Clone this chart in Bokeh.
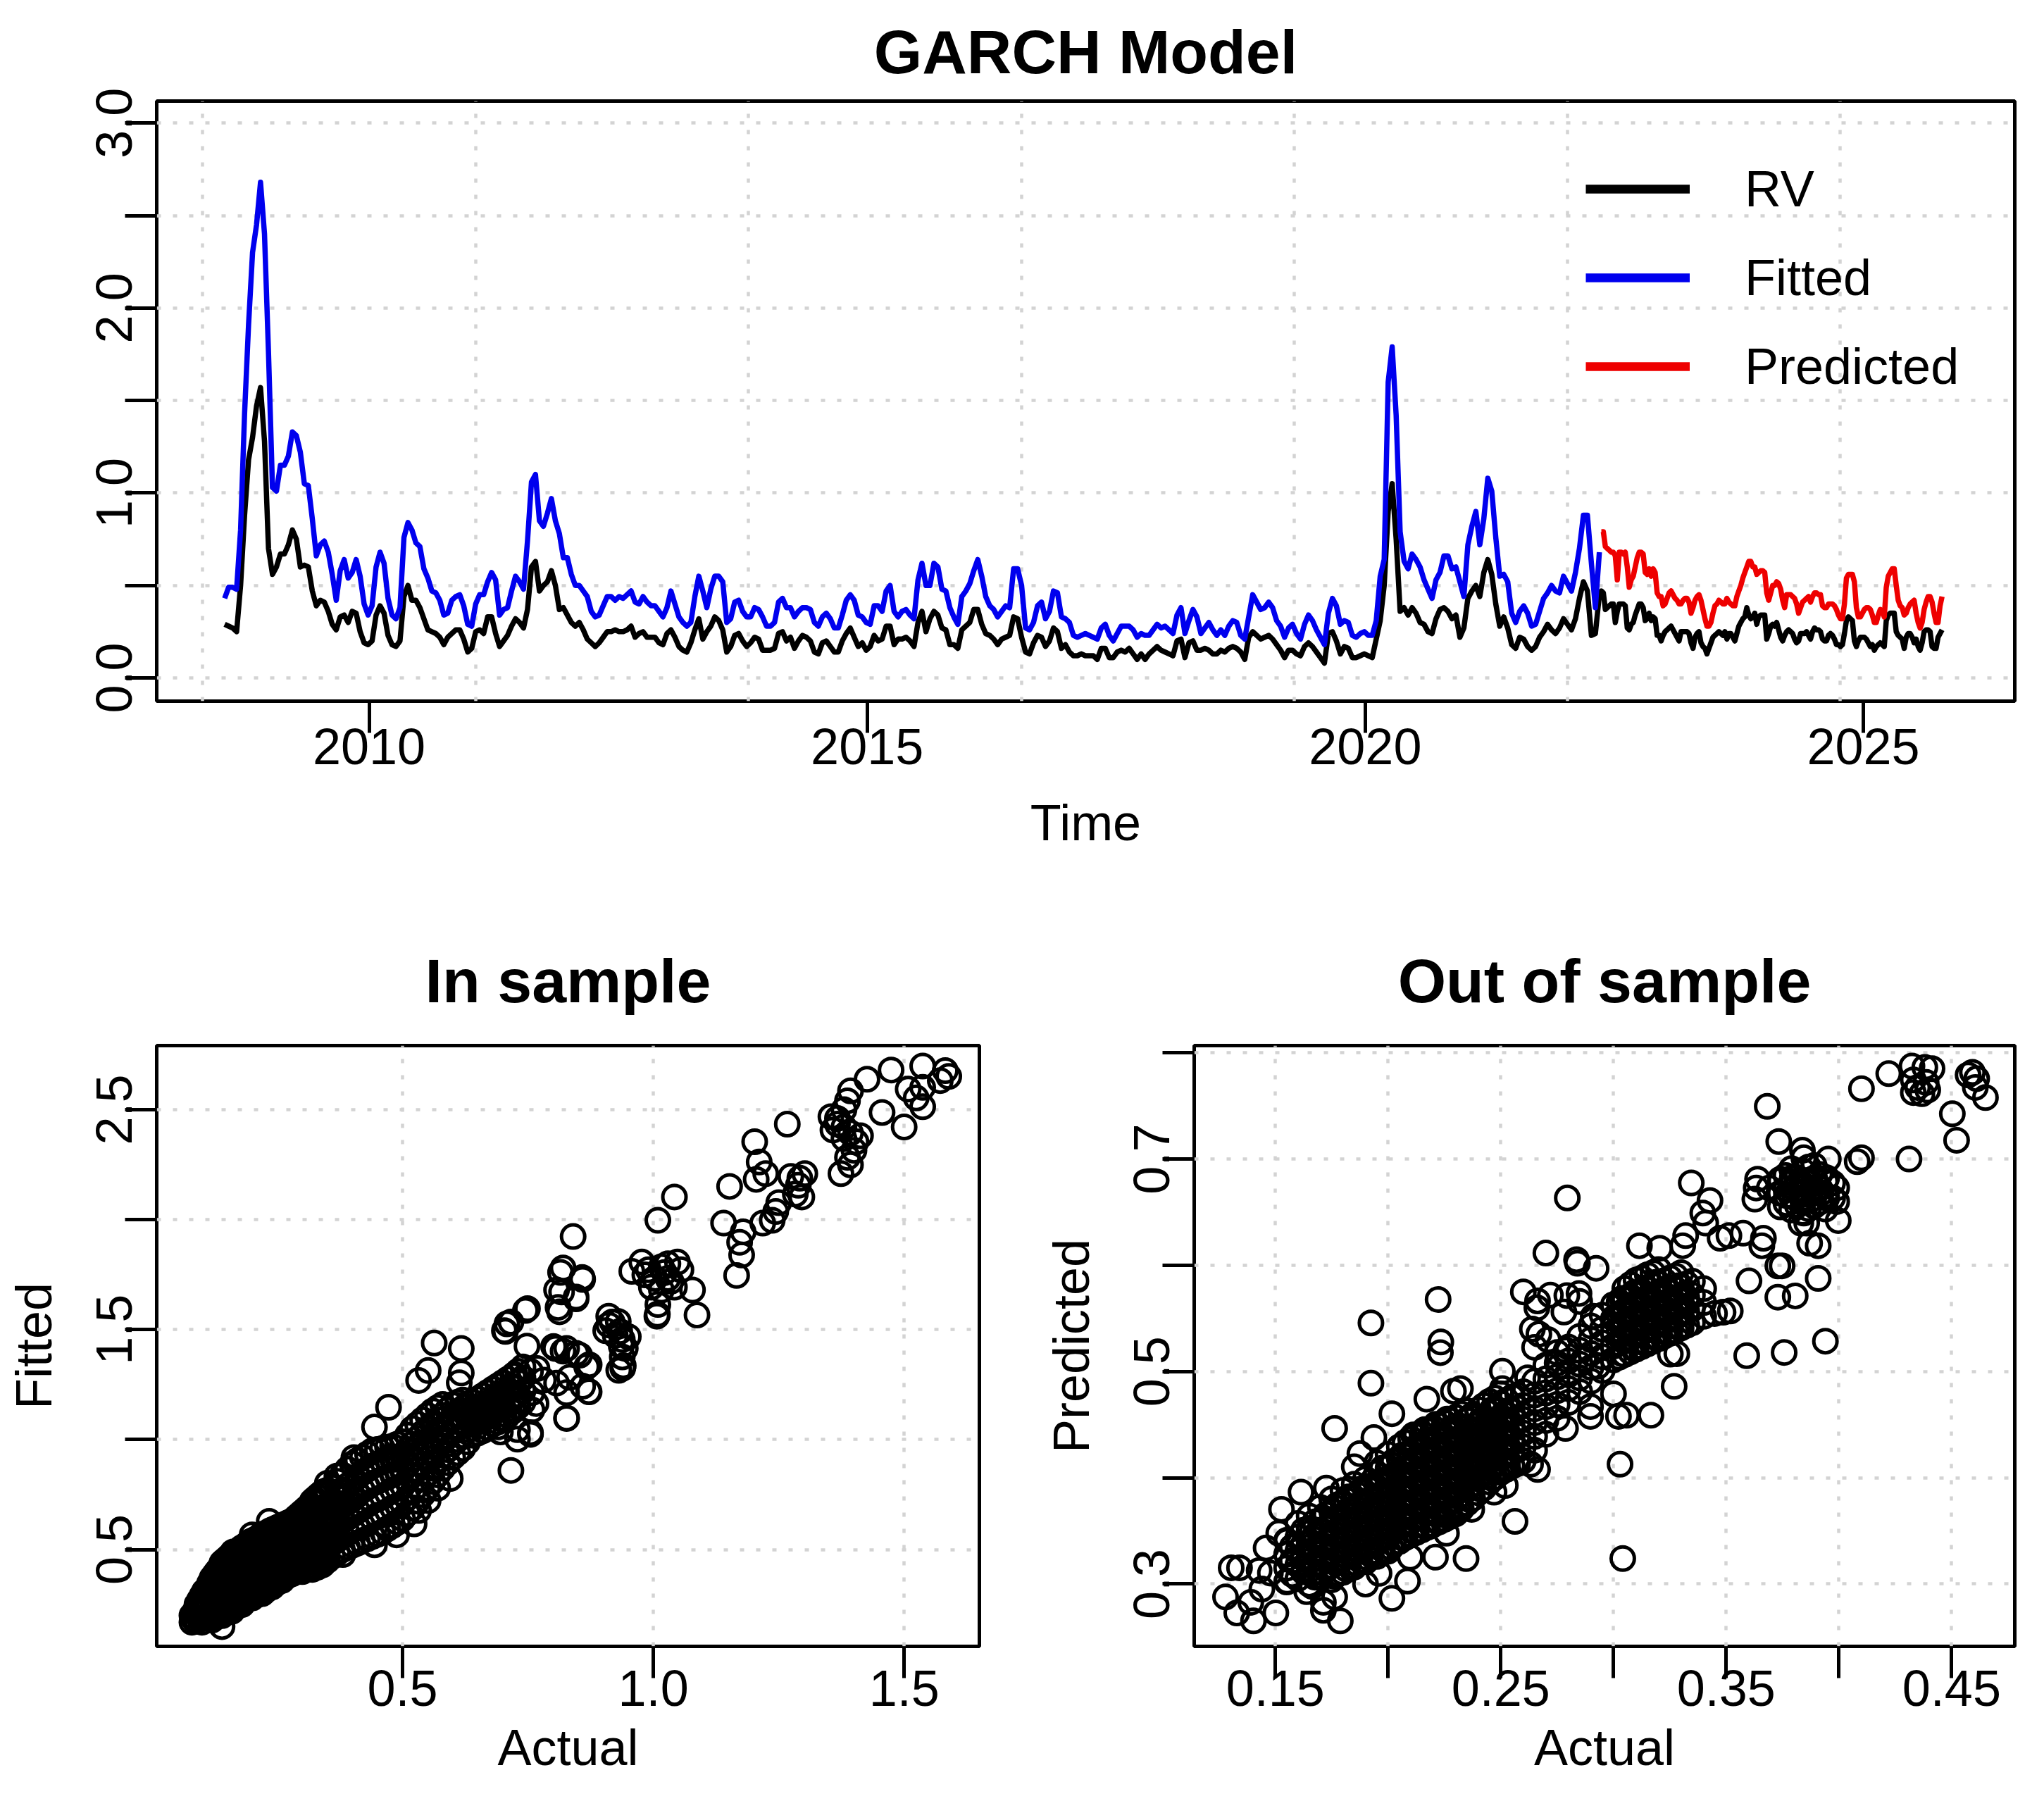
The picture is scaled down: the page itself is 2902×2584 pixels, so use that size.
import numpy as np
from bokeh.plotting import figure
from bokeh.layouts import column, row
from bokeh.models import Range1d, FixedTicker, Legend, LegendItem, PrintfTickFormatter
from bokeh.embed import file_html
from bokeh.resources import INLINE

FONT = "Liberation Sans"
BLUE = "#0000EE"
RED = "#EE0000"
GRID = "#D3D3D3"

# ---------------- data ----------------
# top panel: realized volatility (RV) and GARCH fitted values, in-sample
rv_in = [
    0.29, 0.28, 0.27, 0.25, 0.50, 0.88, 1.18, 1.30, 1.47, 1.57,
    1.28, 0.70, 0.56, 0.60, 0.67, 0.67, 0.72, 0.80, 0.75, 0.60,
    0.61, 0.60, 0.47, 0.39, 0.42, 0.41, 0.36, 0.29, 0.26, 0.33,
    0.34, 0.30, 0.36, 0.35, 0.25, 0.19, 0.18, 0.20, 0.34, 0.39,
    0.35, 0.23, 0.18, 0.17, 0.20, 0.44, 0.50, 0.42, 0.42, 0.38,
    0.32, 0.26, 0.25, 0.24, 0.22, 0.18, 0.22, 0.24, 0.26, 0.26,
    0.21, 0.14, 0.16, 0.25, 0.26, 0.24,
    0.33, 0.33, 0.24, 0.17, 0.20, 0.23, 0.28, 0.32, 0.30, 0.27,
    0.37, 0.60, 0.63, 0.47, 0.50, 0.52, 0.58, 0.50, 0.37, 0.38,
    0.34, 0.30, 0.28, 0.30, 0.26, 0.21, 0.19, 0.17, 0.19, 0.22,
    0.25, 0.25, 0.26, 0.25, 0.25, 0.26, 0.28, 0.22, 0.24, 0.25,
    0.22, 0.22, 0.22, 0.19, 0.18, 0.24, 0.26, 0.22, 0.17, 0.15,
    0.14, 0.19, 0.26, 0.32, 0.21, 0.25, 0.28, 0.33, 0.31, 0.26,
    0.14, 0.17, 0.23, 0.24, 0.20, 0.17, 0.19, 0.22, 0.21, 0.15,
    0.15, 0.15, 0.16, 0.24, 0.25, 0.20, 0.22, 0.16, 0.20, 0.23,
    0.22, 0.20, 0.14, 0.13, 0.19, 0.20, 0.17, 0.14, 0.14, 0.20,
    0.24, 0.27, 0.22, 0.17, 0.19,
    0.15, 0.17, 0.23, 0.20, 0.21, 0.28, 0.28, 0.18, 0.21, 0.21,
    0.22, 0.20, 0.17, 0.30, 0.36, 0.25, 0.32, 0.36, 0.34, 0.27,
    0.26, 0.18, 0.18, 0.16, 0.26, 0.28, 0.30, 0.37, 0.37, 0.29,
    0.24, 0.23, 0.21, 0.18, 0.21, 0.22, 0.23, 0.33, 0.32, 0.22,
    0.14, 0.13, 0.19, 0.23, 0.22, 0.17, 0.20, 0.27, 0.25, 0.16,
    0.18, 0.14, 0.12, 0.12, 0.13, 0.12, 0.12, 0.12, 0.10, 0.16,
    0.16, 0.11, 0.11, 0.14, 0.15, 0.14, 0.16, 0.13, 0.10, 0.13,
    0.10, 0.13, 0.15, 0.17, 0.15, 0.14, 0.13, 0.12, 0.20, 0.21,
    0.11, 0.19, 0.20, 0.15, 0.15, 0.16, 0.15, 0.13, 0.13, 0.15,
    0.14, 0.16, 0.17,
    0.16, 0.14, 0.10, 0.22, 0.25, 0.23, 0.21, 0.22, 0.23, 0.21,
    0.18, 0.15, 0.11, 0.15, 0.15, 0.13, 0.12, 0.17, 0.19, 0.17,
    0.14, 0.11, 0.08, 0.24, 0.25, 0.20, 0.13, 0.17, 0.16, 0.11,
    0.11, 0.12, 0.13, 0.12, 0.11, 0.21, 0.31, 0.50, 0.90, 1.05,
    0.75, 0.36, 0.38, 0.34, 0.38, 0.35, 0.30, 0.29, 0.25, 0.24,
    0.32, 0.37, 0.38, 0.36, 0.32, 0.34, 0.22, 0.27, 0.43, 0.47,
    0.50, 0.44, 0.57, 0.64, 0.56, 0.40, 0.28, 0.33, 0.27, 0.18,
    0.16, 0.22, 0.21, 0.17, 0.15, 0.17, 0.22, 0.25, 0.29, 0.26,
    0.24, 0.27, 0.32, 0.29, 0.26, 0.32, 0.43, 0.52, 0.47, 0.23,
    0.24, 0.45,
]
fitted_in = [
    0.43, 0.49, 0.49, 0.48, 0.80, 1.43, 1.91, 2.30, 2.45, 2.68,
    2.40, 1.76, 1.03, 1.01, 1.15, 1.15, 1.20, 1.33, 1.31, 1.22,
    1.05, 1.04, 0.86, 0.66, 0.72, 0.74, 0.68, 0.56, 0.42, 0.58,
    0.64, 0.54, 0.57, 0.64, 0.55, 0.40, 0.34, 0.39, 0.60, 0.68,
    0.62, 0.43, 0.34, 0.32, 0.38, 0.76, 0.84, 0.80, 0.73, 0.71,
    0.59, 0.54, 0.47, 0.46, 0.42, 0.34, 0.35, 0.42, 0.44, 0.45,
    0.39, 0.29, 0.28, 0.40, 0.45, 0.45,
    0.52, 0.57, 0.53, 0.34, 0.37, 0.38, 0.47, 0.55, 0.52, 0.48,
    0.74, 1.06, 1.10, 0.85, 0.82, 0.89, 0.97, 0.85, 0.78, 0.65,
    0.65, 0.56, 0.50, 0.50, 0.47, 0.44, 0.36, 0.33, 0.34, 0.39,
    0.44, 0.44, 0.42, 0.44, 0.43, 0.45, 0.47, 0.41, 0.40, 0.44,
    0.41, 0.39, 0.39, 0.36, 0.33, 0.38, 0.47, 0.40, 0.33, 0.30,
    0.28, 0.30, 0.44, 0.55, 0.47, 0.38, 0.48, 0.55, 0.55, 0.52,
    0.30, 0.32, 0.41, 0.42, 0.36, 0.33, 0.33, 0.38, 0.37, 0.33,
    0.28, 0.28, 0.30, 0.41, 0.43, 0.38, 0.38, 0.33, 0.36, 0.38,
    0.38, 0.37, 0.30, 0.28, 0.33, 0.35, 0.32, 0.27, 0.27, 0.34,
    0.42, 0.45, 0.42, 0.34, 0.33,
    0.30, 0.29, 0.39, 0.39, 0.36, 0.47, 0.50, 0.36, 0.33, 0.36,
    0.37, 0.34, 0.32, 0.53, 0.62, 0.50, 0.50, 0.62, 0.60, 0.48,
    0.47, 0.38, 0.33, 0.29, 0.44, 0.47, 0.51, 0.58, 0.64, 0.55,
    0.44, 0.39, 0.37, 0.33, 0.36, 0.39, 0.38, 0.59, 0.59, 0.50,
    0.27, 0.26, 0.30, 0.39, 0.41, 0.32, 0.36, 0.47, 0.46, 0.33,
    0.32, 0.30, 0.23, 0.22, 0.23, 0.24, 0.23, 0.22, 0.21, 0.27,
    0.29, 0.23, 0.20, 0.24, 0.28, 0.28, 0.28, 0.26, 0.22, 0.24,
    0.23, 0.23, 0.26, 0.29, 0.27, 0.28, 0.26, 0.24, 0.34, 0.38,
    0.24, 0.31, 0.37, 0.33, 0.24, 0.27, 0.30, 0.26, 0.23, 0.26,
    0.23, 0.28, 0.31,
    0.30, 0.23, 0.21, 0.33, 0.45, 0.41, 0.37, 0.38, 0.41, 0.38,
    0.31, 0.28, 0.22, 0.27, 0.29, 0.24, 0.21, 0.29, 0.34, 0.31,
    0.26, 0.22, 0.18, 0.35, 0.43, 0.39, 0.29, 0.31, 0.30, 0.23,
    0.22, 0.24, 0.25, 0.23, 0.23, 0.31, 0.55, 0.64, 1.60, 1.79,
    1.42, 0.79, 0.63, 0.59, 0.67, 0.64, 0.60, 0.53, 0.48, 0.43,
    0.53, 0.57, 0.66, 0.66, 0.59, 0.60, 0.52, 0.44, 0.72, 0.82,
    0.90, 0.72, 0.86, 1.08, 1.01, 0.76, 0.55, 0.56, 0.52, 0.35,
    0.30, 0.36, 0.39, 0.35, 0.28, 0.29, 0.36, 0.43, 0.46, 0.50,
    0.47, 0.46, 0.55, 0.51, 0.47, 0.57, 0.70, 0.88, 0.88, 0.62,
    0.38, 0.68,
]
# top panel: RV and predicted values, out-of-sample
rv_out = [
    0.47, 0.46, 0.37, 0.38, 0.39, 0.40, 0.40, 0.30, 0.36, 0.40,
    0.40, 0.40, 0.39, 0.27, 0.26, 0.29, 0.30, 0.34, 0.37, 0.40,
    0.40, 0.38, 0.31, 0.32, 0.35, 0.31, 0.33, 0.32, 0.23, 0.23,
    0.20, 0.23, 0.25, 0.26, 0.27, 0.28, 0.26, 0.24, 0.22, 0.20,
    0.25, 0.25, 0.25, 0.25, 0.24, 0.19, 0.16, 0.22, 0.24, 0.25,
    0.19, 0.17, 0.16, 0.13, 0.16, 0.19, 0.22, 0.23, 0.24, 0.25,
    0.24, 0.23, 0.25, 0.21, 0.24, 0.24, 0.22, 0.20, 0.24, 0.28,
    0.30, 0.32, 0.33, 0.38, 0.34, 0.32, 0.33, 0.35, 0.29, 0.33,
    0.34, 0.34, 0.34, 0.21, 0.24, 0.28, 0.29, 0.28, 0.30, 0.26,
    0.22, 0.20, 0.23, 0.25, 0.26, 0.25, 0.24, 0.21, 0.19, 0.20,
    0.24, 0.24, 0.24, 0.25, 0.23, 0.21, 0.25, 0.27, 0.26, 0.26,
    0.25, 0.21, 0.20, 0.20, 0.23, 0.24, 0.23, 0.21, 0.18, 0.18,
    0.17, 0.18, 0.24, 0.31, 0.33, 0.32, 0.31, 0.20, 0.17, 0.20,
    0.22, 0.22, 0.22, 0.21, 0.19, 0.17, 0.18, 0.15, 0.17, 0.18,
    0.19, 0.18, 0.17, 0.31, 0.34, 0.35, 0.35, 0.35, 0.25, 0.23,
    0.22, 0.21, 0.16, 0.22, 0.24, 0.24, 0.22, 0.19, 0.21, 0.17,
    0.15, 0.19, 0.25, 0.26, 0.26, 0.25, 0.17, 0.16, 0.16, 0.22,
    0.24, 0.26,
]
pred_out = [
    0.79, 0.79, 0.71, 0.70, 0.69, 0.68, 0.68, 0.66, 0.53, 0.68,
    0.68, 0.67, 0.68, 0.60, 0.49, 0.53, 0.55, 0.60, 0.65, 0.68,
    0.68, 0.67, 0.57, 0.56, 0.59, 0.55, 0.59, 0.57, 0.46, 0.44,
    0.44, 0.39, 0.40, 0.43, 0.46, 0.47, 0.45, 0.43, 0.42, 0.40,
    0.40, 0.42, 0.43, 0.43, 0.41, 0.35, 0.38, 0.42, 0.44, 0.45,
    0.42, 0.37, 0.32, 0.28, 0.28, 0.30, 0.35, 0.39, 0.40, 0.42,
    0.41, 0.40, 0.40, 0.43, 0.41, 0.40, 0.39, 0.39, 0.44, 0.47,
    0.50, 0.54, 0.57, 0.60, 0.63, 0.63, 0.60, 0.60, 0.56, 0.57,
    0.58, 0.58, 0.57, 0.46, 0.42, 0.46, 0.50, 0.50, 0.52, 0.51,
    0.48, 0.42, 0.38, 0.45, 0.45, 0.45, 0.44, 0.43, 0.40, 0.35,
    0.38, 0.41, 0.42, 0.43, 0.44, 0.41, 0.44, 0.46, 0.46, 0.45,
    0.45, 0.39, 0.38, 0.38, 0.40, 0.40, 0.40, 0.39, 0.37, 0.34,
    0.32, 0.32, 0.40, 0.54, 0.56, 0.56, 0.56, 0.52, 0.38, 0.33,
    0.33, 0.35, 0.37, 0.38, 0.38, 0.37, 0.34, 0.30, 0.30, 0.34,
    0.37, 0.36, 0.33, 0.49, 0.55, 0.57, 0.59, 0.59, 0.50, 0.42,
    0.39, 0.38, 0.34, 0.35, 0.38, 0.40, 0.41, 0.42, 0.35, 0.30,
    0.27, 0.30, 0.37, 0.41, 0.44, 0.44, 0.41, 0.35, 0.30, 0.30,
    0.39, 0.44,
]
# time index of the two samples (start year, step in years)
in_start, in_step = 2008.55, 0.04
out_start, out_step = 2022.37, 0.02

# bottom-left panel: (Actual, Fitted) points
in_scatter_pairs = [
    (1.474, 2.680), (1.537, 2.698), (1.582, 2.677), (1.589, 2.651), (1.572, 2.632),
    (1.537, 2.601), (1.508, 2.593), (1.524, 2.553), (1.537, 2.513), (1.500, 2.421),
    (1.456, 2.487), (1.426, 2.638), (1.393, 2.585), (1.387, 2.540), (1.380, 2.500),
    (1.367, 2.460), (1.354, 2.468), (1.380, 2.421), (1.393, 2.394), (1.413, 2.381),
    (1.380, 2.368), (1.400, 2.315), (1.387, 2.283), (1.374, 2.209), (1.393, 2.249),
    (1.404, 2.354), (1.367, 2.434), (1.358, 2.407), (1.267, 2.434), (1.202, 2.354),
    (1.211, 2.262), (1.205, 2.183), (1.224, 2.209), (1.152, 2.151), (1.274, 2.196),
    (1.292, 2.188), (1.302, 2.209), (1.289, 2.156), (1.283, 2.116), (1.296, 2.103),
    (1.250, 2.077), (1.244, 2.037), (1.218, 1.984), (1.237, 1.997), (1.140, 1.984),
    (1.179, 1.944), (1.172, 1.897), (1.176, 1.839), (1.166, 1.746), (1.042, 2.103),
    (1.009, 1.997), (0.957, 1.765), (0.977, 1.807), (0.990, 1.772), (1.016, 1.786),
    (1.029, 1.799), (1.048, 1.807), (1.055, 1.772), (1.029, 1.733), (1.042, 1.693),
    (1.016, 1.680), (0.996, 1.693), (1.009, 1.614), (1.007, 1.561), (1.078, 1.680),
    (1.087, 1.566), (1.003, 1.733), (1.022, 1.759), (1.035, 1.720), (0.911, 1.561),
    (0.918, 1.534), (0.905, 1.495), (0.924, 1.474), (0.938, 1.455), (0.944, 1.415),
    (0.938, 1.376), (0.940, 1.336), (0.931, 1.315), (0.950, 1.468), (0.911, 1.521),
    (0.840, 1.923), (0.820, 1.780), (0.859, 1.728), (0.807, 1.680), (0.846, 1.640),
    (0.810, 1.601), (0.749, 1.595), (0.703, 1.495), (0.716, 1.534), (0.801, 1.423),
    (0.820, 1.402), (0.853, 1.384), (0.872, 1.341), (0.833, 1.283), (0.807, 1.257),
    (0.859, 1.243), (0.872, 1.217), (0.827, 1.098), (0.723, 1.296), (0.755, 1.310),
    (0.768, 1.323), (0.781, 1.270), (0.729, 1.177), (0.766, 1.164), (0.703, 1.098),
    (0.729, 1.045), (0.755, 1.032), (0.716, 0.860), (0.690, 1.058), (0.651, 1.124),
    (0.625, 1.151), (0.563, 1.439), (0.617, 1.414), (0.617, 1.303), (0.551, 1.314),
    (0.532, 1.269), (0.745, 1.587), (0.708, 1.526), (0.705, 1.492), (0.815, 1.760),
    (0.858, 1.737), (0.817, 1.671), (0.846, 1.648), (0.813, 1.581), (0.748, 1.425),
    (0.805, 1.414), (0.827, 1.414), (0.846, 1.392), (0.867, 1.331), (0.871, 1.219),
    (0.827, 1.213), (0.827, 1.096), (0.758, 1.135), (0.755, 1.024), (0.729, 1.002),
    (0.695, 1.035), (0.758, 1.213), (0.930, 1.537), (0.933, 1.492), (0.936, 1.425),
    (0.939, 1.325), (0.983, 1.749), (1.008, 1.570), (0.472, 1.147), (0.444, 1.057),
    (0.613, 1.258), (0.595, 0.823), (0.570, 0.779), (0.551, 0.723), (0.532, 0.678),
    (0.523, 0.617), (0.488, 0.567), (0.444, 0.522), (0.381, 0.478), (0.450, 0.656),
    (0.403, 0.918), (0.369, 0.834), (0.350, 0.801), (0.234, 0.628), (0.200, 0.567),
    (0.162, 0.489), (0.140, 0.150),
    # dense band (estimated where circles overlap into a solid mass)
    (0.08, 0.17), (0.08, 0.20),
    (0.085, 0.18), (0.085, 0.215),
    (0.09, 0.175), (0.09, 0.21), (0.09, 0.25),
    (0.095, 0.19), (0.095, 0.23), (0.095, 0.27),
    (0.10, 0.17), (0.10, 0.21), (0.10, 0.25), (0.10, 0.29),
    (0.105, 0.19), (0.105, 0.23), (0.105, 0.27), (0.105, 0.31),
    (0.11, 0.19), (0.11, 0.23), (0.11, 0.275), (0.11, 0.32),
    (0.115, 0.20), (0.115, 0.245), (0.115, 0.295), (0.115, 0.345),
    (0.12, 0.18), (0.12, 0.23), (0.12, 0.28), (0.12, 0.33), (0.12, 0.37),
    (0.125, 0.19), (0.125, 0.24), (0.125, 0.29), (0.125, 0.34), (0.125, 0.385),
    (0.13, 0.205), (0.13, 0.255), (0.13, 0.305), (0.13, 0.355), (0.13, 0.40),
    (0.135, 0.215), (0.135, 0.265), (0.135, 0.315), (0.135, 0.365), (0.135, 0.415),
    (0.14, 0.20), (0.14, 0.25), (0.14, 0.30), (0.14, 0.35), (0.14, 0.40), (0.14, 0.44),
    (0.145, 0.21), (0.145, 0.26), (0.145, 0.31), (0.145, 0.36), (0.145, 0.41), (0.145, 0.45),
    (0.15, 0.225), (0.15, 0.275), (0.15, 0.325), (0.15, 0.375), (0.15, 0.425), (0.15, 0.46),
    (0.155, 0.235), (0.155, 0.285), (0.155, 0.335), (0.155, 0.385), (0.155, 0.435), (0.155, 0.47),
    (0.16, 0.22), (0.16, 0.27), (0.16, 0.32), (0.16, 0.37), (0.16, 0.42), (0.16, 0.47),
    (0.165, 0.235), (0.165, 0.285), (0.165, 0.335), (0.165, 0.385), (0.165, 0.435), (0.165, 0.48),
    (0.17, 0.245), (0.17, 0.295), (0.17, 0.345), (0.17, 0.395), (0.17, 0.445), (0.17, 0.49),
    (0.175, 0.26), (0.175, 0.31), (0.175, 0.36), (0.175, 0.41), (0.175, 0.46), (0.175, 0.50),
    (0.18, 0.25), (0.18, 0.30), (0.18, 0.35), (0.18, 0.40), (0.18, 0.45), (0.18, 0.51),
    (0.185, 0.265), (0.185, 0.315), (0.185, 0.365), (0.185, 0.415), (0.185, 0.465), (0.185, 0.515),
    (0.19, 0.275), (0.19, 0.325), (0.19, 0.375), (0.19, 0.425), (0.19, 0.475), (0.19, 0.525),
    (0.195, 0.29), (0.195, 0.34), (0.195, 0.39), (0.195, 0.44), (0.195, 0.49), (0.195, 0.535),
    (0.20, 0.28), (0.20, 0.33), (0.20, 0.38), (0.20, 0.43), (0.20, 0.49), (0.20, 0.54),
    (0.205, 0.29), (0.205, 0.34), (0.205, 0.39), (0.205, 0.44), (0.205, 0.49), (0.205, 0.545),
    (0.21, 0.295), (0.21, 0.345), (0.21, 0.395), (0.21, 0.445), (0.21, 0.495), (0.21, 0.55),
    (0.215, 0.31), (0.215, 0.36), (0.215, 0.41), (0.215, 0.46), (0.215, 0.51), (0.215, 0.56),
    (0.22, 0.30), (0.22, 0.35), (0.22, 0.40), (0.22, 0.46), (0.22, 0.51), (0.22, 0.57),
    (0.225, 0.31), (0.225, 0.36), (0.225, 0.41), (0.225, 0.465), (0.225, 0.515), (0.225, 0.57),
    (0.23, 0.32), (0.23, 0.37), (0.23, 0.42), (0.23, 0.47), (0.23, 0.52), (0.23, 0.575),
    (0.235, 0.335), (0.235, 0.385), (0.235, 0.435), (0.235, 0.485), (0.235, 0.535), (0.235, 0.585),
    (0.24, 0.33), (0.24, 0.38), (0.24, 0.43), (0.24, 0.49), (0.24, 0.54), (0.24, 0.59),
    (0.245, 0.345), (0.245, 0.395), (0.245, 0.445), (0.245, 0.495), (0.245, 0.545), (0.245, 0.595),
    (0.25, 0.35), (0.25, 0.40), (0.25, 0.45), (0.25, 0.50), (0.25, 0.55), (0.25, 0.60),
    (0.255, 0.36), (0.255, 0.41), (0.255, 0.46), (0.255, 0.51), (0.255, 0.56), (0.255, 0.605),
    (0.26, 0.36), (0.26, 0.41), (0.26, 0.46), (0.26, 0.51), (0.26, 0.56), (0.26, 0.61),
    (0.265, 0.375), (0.265, 0.425), (0.265, 0.475), (0.265, 0.525), (0.265, 0.575), (0.265, 0.615),
    (0.27, 0.38), (0.27, 0.43), (0.27, 0.48), (0.27, 0.53), (0.27, 0.58), (0.27, 0.62),
    (0.275, 0.39), (0.275, 0.44), (0.275, 0.49), (0.275, 0.54), (0.275, 0.59), (0.275, 0.625),
    (0.28, 0.39), (0.28, 0.44), (0.28, 0.49), (0.28, 0.54), (0.28, 0.59), (0.28, 0.63),
    (0.285, 0.40), (0.285, 0.45), (0.285, 0.50), (0.285, 0.55), (0.285, 0.60), (0.285, 0.64),
    (0.29, 0.40), (0.29, 0.45), (0.29, 0.50), (0.29, 0.55), (0.29, 0.60), (0.29, 0.65),
    (0.295, 0.41), (0.295, 0.46), (0.295, 0.51), (0.295, 0.56), (0.295, 0.61), (0.295, 0.66),
    (0.30, 0.40), (0.30, 0.46), (0.30, 0.51), (0.30, 0.57), (0.30, 0.62), (0.30, 0.67),
    (0.305, 0.415), (0.305, 0.47), (0.305, 0.525), (0.305, 0.58), (0.305, 0.635), (0.305, 0.68),
    (0.31, 0.41), (0.31, 0.465), (0.31, 0.52), (0.31, 0.575), (0.31, 0.63), (0.31, 0.69),
    (0.315, 0.42), (0.315, 0.475), (0.315, 0.53), (0.315, 0.585), (0.315, 0.64), (0.315, 0.70),
    (0.32, 0.41), (0.32, 0.47), (0.32, 0.53), (0.32, 0.59), (0.32, 0.65), (0.32, 0.72),
    (0.325, 0.425), (0.325, 0.485), (0.325, 0.545), (0.325, 0.605), (0.325, 0.665), (0.325, 0.73),
    (0.33, 0.42), (0.33, 0.48), (0.33, 0.54), (0.33, 0.60), (0.33, 0.67), (0.33, 0.74),
    (0.335, 0.435), (0.335, 0.495), (0.335, 0.555), (0.335, 0.615), (0.335, 0.68), (0.335, 0.75),
    (0.34, 0.43), (0.34, 0.49), (0.34, 0.55), (0.34, 0.62), (0.34, 0.69), (0.34, 0.76),
    (0.345, 0.445), (0.345, 0.505), (0.345, 0.565), (0.345, 0.63), (0.345, 0.695), (0.345, 0.765),
    (0.35, 0.45), (0.35, 0.51), (0.35, 0.57), (0.35, 0.64), (0.35, 0.70), (0.35, 0.77),
    (0.36, 0.47), (0.36, 0.53), (0.36, 0.59), (0.36, 0.66), (0.36, 0.72), (0.36, 0.78),
    (0.37, 0.485), (0.37, 0.545), (0.37, 0.61), (0.37, 0.68), (0.37, 0.745), (0.37, 0.81),
    (0.38, 0.50), (0.38, 0.56), (0.38, 0.63), (0.38, 0.70), (0.38, 0.77), (0.38, 0.84),
    (0.39, 0.51), (0.39, 0.575), (0.39, 0.645), (0.39, 0.715), (0.39, 0.79), (0.39, 0.865),
    (0.40, 0.52), (0.40, 0.59), (0.40, 0.66), (0.40, 0.73), (0.40, 0.81), (0.40, 0.89),
    (0.41, 0.53), (0.41, 0.60), (0.41, 0.675), (0.41, 0.75), (0.41, 0.83), (0.41, 0.905),
    (0.42, 0.54), (0.42, 0.61), (0.42, 0.69), (0.42, 0.77), (0.42, 0.85), (0.42, 0.92),
    (0.43, 0.55), (0.43, 0.625), (0.43, 0.705), (0.43, 0.785), (0.43, 0.865), (0.43, 0.935),
    (0.44, 0.56), (0.44, 0.64), (0.44, 0.72), (0.44, 0.80), (0.44, 0.88), (0.44, 0.95),
    (0.45, 0.57), (0.45, 0.65), (0.45, 0.73), (0.45, 0.81), (0.45, 0.89), (0.45, 0.955),
    (0.46, 0.58), (0.46, 0.66), (0.46, 0.74), (0.46, 0.82), (0.46, 0.90), (0.46, 0.96),
    (0.47, 0.595), (0.47, 0.675), (0.47, 0.755), (0.47, 0.83), (0.47, 0.905), (0.47, 0.965),
    (0.48, 0.61), (0.48, 0.69), (0.48, 0.77), (0.48, 0.84), (0.48, 0.91), (0.48, 0.97),
    (0.49, 0.625), (0.49, 0.70), (0.49, 0.78), (0.49, 0.85), (0.49, 0.92), (0.49, 0.98),
    (0.50, 0.64), (0.50, 0.71), (0.50, 0.79), (0.50, 0.86), (0.50, 0.93), (0.50, 0.99),
    (0.51, 0.665), (0.51, 0.735), (0.51, 0.815), (0.51, 0.885), (0.51, 0.955), (0.51, 1.02),
    (0.52, 0.69), (0.52, 0.76), (0.52, 0.84), (0.52, 0.91), (0.52, 0.98), (0.52, 1.05),
    (0.53, 0.72), (0.53, 0.79), (0.53, 0.865), (0.53, 0.935), (0.53, 1.005), (0.53, 1.07),
    (0.54, 0.75), (0.54, 0.82), (0.54, 0.89), (0.54, 0.96), (0.54, 1.03), (0.54, 1.09),
    (0.55, 0.78), (0.55, 0.845), (0.55, 0.915), (0.55, 0.98), (0.55, 1.05), (0.55, 1.11),
    (0.56, 0.81), (0.56, 0.87), (0.56, 0.94), (0.56, 1.00), (0.56, 1.07), (0.56, 1.13),
    (0.57, 0.84), (0.57, 0.90), (0.57, 0.965), (0.57, 1.025), (0.57, 1.09), (0.57, 1.145),
    (0.58, 0.87), (0.58, 0.93), (0.58, 0.99), (0.58, 1.05), (0.58, 1.11), (0.58, 1.16),
    (0.59, 0.895), (0.59, 0.955), (0.59, 1.015), (0.59, 1.075), (0.59, 1.135),
    (0.60, 0.92), (0.60, 0.98), (0.60, 1.04), (0.60, 1.10), (0.60, 1.16),
    (0.61, 0.94), (0.61, 1.00), (0.61, 1.06), (0.61, 1.115), (0.61, 1.17),
    (0.62, 0.96), (0.62, 1.02), (0.62, 1.08), (0.62, 1.13), (0.62, 1.18),
    (0.63, 0.99), (0.63, 1.045), (0.63, 1.10), (0.63, 1.15),
    (0.64, 1.02), (0.64, 1.07), (0.64, 1.12), (0.64, 1.17),
    (0.65, 1.03), (0.65, 1.08), (0.65, 1.135), (0.65, 1.185),
    (0.66, 1.04), (0.66, 1.09), (0.66, 1.15), (0.66, 1.20),
    (0.67, 1.055), (0.67, 1.105), (0.67, 1.165), (0.67, 1.215),
    (0.68, 1.07), (0.68, 1.12), (0.68, 1.18), (0.68, 1.23),
    (0.69, 1.08), (0.69, 1.135), (0.69, 1.195), (0.69, 1.245),
    (0.70, 1.09), (0.70, 1.15), (0.70, 1.21), (0.70, 1.26),
    (0.71, 1.11), (0.71, 1.17), (0.71, 1.225), (0.71, 1.275),
    (0.72, 1.13), (0.72, 1.19), (0.72, 1.24), (0.72, 1.29),
    (0.73, 1.15), (0.73, 1.205), (0.73, 1.26), (0.73, 1.31),
    (0.74, 1.17), (0.74, 1.22), (0.74, 1.28), (0.74, 1.33),
]
# bottom-right panel: (Actual, Predicted) points
out_scatter_pairs = [
    (0.4221, 0.7804), (0.4100, 0.7662), (0.4324, 0.7875), (0.4381, 0.7863), (0.4413, 0.7851),
    (0.4330, 0.7745), (0.4349, 0.7674), (0.4394, 0.7650), (0.4330, 0.7626), (0.4368, 0.7615),
    (0.4387, 0.7721), (0.4592, 0.7816), (0.4611, 0.7757), (0.4605, 0.7674), (0.4650, 0.7579),
    (0.4503, 0.7426), (0.4522, 0.7177), (0.4311, 0.7000), (0.4573, 0.7792), (0.3682, 0.7496),
    (0.3733, 0.7165), (0.3838, 0.7083), (0.3844, 0.7012), (0.3953, 0.7000), (0.4100, 0.7012),
    (0.4081, 0.6976), (0.3639, 0.6811), (0.3633, 0.6728), (0.3627, 0.6622), (0.3691, 0.6728),
    (0.3742, 0.6799), (0.3793, 0.6823), (0.3818, 0.6764), (0.3857, 0.6775), (0.3895, 0.6799),
    (0.3946, 0.6823), (0.3972, 0.6775), (0.3882, 0.6728), (0.3921, 0.6681), (0.3844, 0.6681),
    (0.3806, 0.6634), (0.3767, 0.6657), (0.3870, 0.6610), (0.3946, 0.6634), (0.3972, 0.6634),
    (0.3997, 0.6421), (0.3844, 0.6492), (0.3857, 0.6397), (0.3870, 0.6208), (0.3908, 0.6184),
    (0.3831, 0.6397), (0.3908, 0.5877), (0.3729, 0.5700), (0.3806, 0.5712), (0.3940, 0.5286),
    (0.3757, 0.5180), (0.3591, 0.5149), (0.3345, 0.6775), (0.3428, 0.6610), (0.3396, 0.6492),
    (0.3409, 0.6397), (0.3320, 0.6279), (0.3307, 0.6184), (0.3115, 0.6184), (0.3205, 0.6161),
    (0.3473, 0.6255), (0.3512, 0.6279), (0.3575, 0.6303), (0.3665, 0.6255), (0.3658, 0.6184),
    (0.3729, 0.5995), (0.3748, 0.5995), (0.3601, 0.5853), (0.2840, 0.6019), (0.2923, 0.5972),
    (0.2847, 0.5735), (0.3486, 0.5558), (0.3448, 0.5546), (0.3518, 0.5570), (0.3281, 0.5168),
    (0.3269, 0.4861), (0.2795, 0.6634), (0.2898, 0.4671), (0.3058, 0.4589), (0.3166, 0.4589),
    (0.3000, 0.4790), (0.3252, 0.5164), (0.3296, 0.5548),
    (0.2700, 0.6115), (0.2836, 0.6053), (0.2222, 0.5678), (0.1924, 0.5458), (0.2234, 0.5278),
    (0.2232, 0.5178), (0.1924, 0.4890), (0.2017, 0.4603), (0.1763, 0.4465), (0.2663, 0.5665),
    (0.2793, 0.5715), (0.2669, 0.5353), (0.2650, 0.5228), (0.2507, 0.5003), (0.2507, 0.4840),
    (0.2619, 0.4940), (0.2898, 0.4578), (0.2787, 0.4465), (0.3022, 0.4578), (0.3029, 0.4128),
    (0.3041, 0.3240), (0.2563, 0.3590), (0.2346, 0.3240), (0.2290, 0.4815), (0.2321, 0.4840),
    (0.2172, 0.4740), (0.2632, 0.4128), (0.2663, 0.4078), (0.2470, 0.3865), (0.2520, 0.3928),
    (0.2371, 0.3703), (0.2259, 0.3478), (0.2210, 0.3253), (0.2098, 0.3253), (0.2017, 0.2865),
    (0.2086, 0.3028), (0.1788, 0.2653), (0.1713, 0.2753), (0.1639, 0.2928), (0.1552, 0.3028),
    (0.1527, 0.3703), (0.1459, 0.3340), (0.1614, 0.3865), (0.1726, 0.3903), (0.1850, 0.4103),
    (0.1875, 0.4228), (0.1937, 0.4378), (0.1341, 0.3153), (0.1304, 0.3153), (0.1279, 0.2878),
    (0.1329, 0.2728), (0.1403, 0.2653), (0.1502, 0.2728), (0.1440, 0.2953), (0.1391, 0.2828),
    (0.1478, 0.3103), (0.1428, 0.3128), (0.1515, 0.3478), (0.1552, 0.3403), (0.1664, 0.2978),
    (0.1713, 0.2828), (0.1763, 0.2878), (0.1900, 0.3000), (0.1960, 0.3100),
    (0.260, 0.575), (0.266, 0.560), (0.272, 0.572), (0.278, 0.556), (0.285, 0.566),
    (0.291, 0.552), (0.264, 0.540), (0.271, 0.530), (0.279, 0.520), (0.287, 0.512),
    (0.293, 0.505), (0.276, 0.505),
    # dense band (estimated where circles overlap into a solid mass)
    (0.155, 0.302), (0.155, 0.315), (0.155, 0.328), (0.155, 0.341),
    (0.1575, 0.309), (0.1575, 0.322), (0.1575, 0.335),
    (0.160, 0.305), (0.160, 0.318), (0.160, 0.331), (0.160, 0.344), (0.160, 0.357),
    (0.1625, 0.3115), (0.1625, 0.3245), (0.1625, 0.3375), (0.1625, 0.3505),
    (0.165, 0.300), (0.165, 0.313), (0.165, 0.326), (0.165, 0.339), (0.165, 0.352), (0.165, 0.364),
    (0.1675, 0.3065), (0.1675, 0.3195), (0.1675, 0.3325), (0.1675, 0.3455), (0.1675, 0.3585),
    (0.170, 0.307), (0.170, 0.320), (0.170, 0.333), (0.170, 0.346), (0.170, 0.359), (0.170, 0.372),
    (0.1725, 0.3135), (0.1725, 0.3265), (0.1725, 0.3395), (0.1725, 0.3525), (0.1725, 0.3655),
    (0.175, 0.304), (0.175, 0.317), (0.175, 0.330), (0.175, 0.343), (0.175, 0.356), (0.175, 0.369), (0.175, 0.380),
    (0.1775, 0.3105), (0.1775, 0.3235), (0.1775, 0.3365), (0.1775, 0.3495), (0.1775, 0.3625), (0.1775, 0.3745),
    (0.180, 0.311), (0.180, 0.324), (0.180, 0.337), (0.180, 0.350), (0.180, 0.363), (0.180, 0.376), (0.180, 0.388),
    (0.1825, 0.3175), (0.1825, 0.3305), (0.1825, 0.3435), (0.1825, 0.3565), (0.1825, 0.3695), (0.1825, 0.382),
    (0.185, 0.316), (0.185, 0.329), (0.185, 0.342), (0.185, 0.355), (0.185, 0.368), (0.185, 0.381), (0.185, 0.394),
    (0.1875, 0.3225), (0.1875, 0.3355), (0.1875, 0.3485), (0.1875, 0.3615), (0.1875, 0.3745), (0.1875, 0.3875),
    (0.190, 0.321), (0.190, 0.334), (0.190, 0.347), (0.190, 0.360), (0.190, 0.373), (0.190, 0.386), (0.190, 0.399),
    (0.1925, 0.3275), (0.1925, 0.3405), (0.1925, 0.3535), (0.1925, 0.3665), (0.1925, 0.3795), (0.1925, 0.3925),
    (0.195, 0.326), (0.195, 0.339), (0.195, 0.352), (0.195, 0.365), (0.195, 0.378), (0.195, 0.391), (0.195, 0.404), (0.195, 0.414),
    (0.1975, 0.3325), (0.1975, 0.3455), (0.1975, 0.3585), (0.1975, 0.3715), (0.1975, 0.3845), (0.1975, 0.3975), (0.1975, 0.409),
    (0.200, 0.331), (0.200, 0.344), (0.200, 0.357), (0.200, 0.370), (0.200, 0.383), (0.200, 0.396), (0.200, 0.409), (0.200, 0.422),
    (0.2025, 0.3375), (0.2025, 0.3505), (0.2025, 0.3635), (0.2025, 0.3765), (0.2025, 0.3895), (0.2025, 0.4025), (0.2025, 0.4155),
    (0.205, 0.340), (0.205, 0.353), (0.205, 0.366), (0.205, 0.379), (0.205, 0.392), (0.205, 0.405), (0.205, 0.418), (0.205, 0.429),
    (0.2075, 0.3435), (0.2075, 0.3565), (0.2075, 0.3695), (0.2075, 0.3825), (0.2075, 0.3955), (0.2075, 0.4085), (0.2075, 0.4215), (0.2075, 0.433),
    (0.210, 0.346), (0.210, 0.359), (0.210, 0.372), (0.210, 0.385), (0.210, 0.398), (0.210, 0.411), (0.210, 0.424), (0.210, 0.437),
    (0.2125, 0.3485), (0.2125, 0.3615), (0.2125, 0.3745), (0.2125, 0.3875), (0.2125, 0.4005), (0.2125, 0.4135), (0.2125, 0.4265), (0.2125, 0.4395),
    (0.215, 0.351), (0.215, 0.364), (0.215, 0.377), (0.215, 0.390), (0.215, 0.403), (0.215, 0.416), (0.215, 0.429), (0.215, 0.442),
    (0.2175, 0.3535), (0.2175, 0.3665), (0.2175, 0.3795), (0.2175, 0.3925), (0.2175, 0.4055), (0.2175, 0.4185), (0.2175, 0.4315), (0.2175, 0.4445),
    (0.220, 0.356), (0.220, 0.369), (0.220, 0.382), (0.220, 0.395), (0.220, 0.408), (0.220, 0.421), (0.220, 0.434), (0.220, 0.447),
    (0.2225, 0.3585), (0.2225, 0.3715), (0.2225, 0.3845), (0.2225, 0.3975), (0.2225, 0.4105), (0.2225, 0.4235), (0.2225, 0.4365), (0.2225, 0.4495),
    (0.225, 0.361), (0.225, 0.374), (0.225, 0.387), (0.225, 0.400), (0.225, 0.413), (0.225, 0.426), (0.225, 0.439), (0.225, 0.452),
    (0.2275, 0.3635), (0.2275, 0.3765), (0.2275, 0.3895), (0.2275, 0.4025), (0.2275, 0.4155), (0.2275, 0.4285), (0.2275, 0.4415), (0.2275, 0.4545),
    (0.230, 0.366), (0.230, 0.379), (0.230, 0.392), (0.230, 0.405), (0.230, 0.418), (0.230, 0.431), (0.230, 0.444), (0.230, 0.457),
    (0.2325, 0.3705), (0.2325, 0.3835), (0.2325, 0.3965), (0.2325, 0.4095), (0.2325, 0.4225), (0.2325, 0.4355), (0.2325, 0.4485), (0.2325, 0.460),
    (0.235, 0.376), (0.235, 0.389), (0.235, 0.402), (0.235, 0.415), (0.235, 0.428), (0.235, 0.441), (0.235, 0.454), (0.235, 0.463),
    (0.2375, 0.3805), (0.2375, 0.3935), (0.2375, 0.4065), (0.2375, 0.4195), (0.2375, 0.4325), (0.2375, 0.4455), (0.2375, 0.4585),
    (0.240, 0.386), (0.240, 0.399), (0.240, 0.412), (0.240, 0.425), (0.240, 0.438), (0.240, 0.451), (0.240, 0.464),
    (0.2425, 0.3905), (0.2425, 0.4035), (0.2425, 0.4165), (0.2425, 0.4295), (0.2425, 0.4425), (0.2425, 0.4555), (0.2425, 0.468),
    (0.245, 0.396), (0.245, 0.409), (0.245, 0.422), (0.245, 0.435), (0.245, 0.448), (0.245, 0.461), (0.245, 0.472),
    (0.2475, 0.4005), (0.2475, 0.4135), (0.2475, 0.4265), (0.2475, 0.4395), (0.2475, 0.4525), (0.2475, 0.4655), (0.2475, 0.475),
    (0.250, 0.405), (0.250, 0.418), (0.250, 0.431), (0.250, 0.444), (0.250, 0.457), (0.250, 0.470), (0.250, 0.479),
    (0.2525, 0.408), (0.2525, 0.421), (0.2525, 0.434), (0.2525, 0.447), (0.2525, 0.460), (0.2525, 0.473),
    (0.255, 0.411), (0.255, 0.424), (0.255, 0.437), (0.255, 0.450), (0.255, 0.463), (0.255, 0.476),
    (0.2575, 0.4135), (0.2575, 0.4265), (0.2575, 0.4395), (0.2575, 0.4525), (0.2575, 0.4655), (0.2575, 0.478),
    (0.260, 0.416), (0.260, 0.429), (0.260, 0.442), (0.260, 0.455), (0.260, 0.468), (0.260, 0.481),
    (0.265, 0.426), (0.265, 0.439), (0.265, 0.452), (0.265, 0.465), (0.265, 0.478), (0.265, 0.491),
    (0.270, 0.441), (0.270, 0.454), (0.270, 0.467), (0.270, 0.480), (0.270, 0.493), (0.270, 0.506),
    (0.275, 0.456), (0.275, 0.469), (0.275, 0.482), (0.275, 0.495), (0.275, 0.508), (0.275, 0.518),
    (0.280, 0.471), (0.280, 0.484), (0.280, 0.497), (0.280, 0.510), (0.280, 0.523),
    (0.285, 0.481), (0.285, 0.494), (0.285, 0.507), (0.285, 0.520), (0.285, 0.533),
    (0.290, 0.491), (0.290, 0.504), (0.290, 0.517), (0.290, 0.530), (0.290, 0.543),
    (0.295, 0.501), (0.295, 0.514), (0.295, 0.527), (0.295, 0.540), (0.295, 0.553),
    (0.300, 0.511), (0.300, 0.524), (0.300, 0.537), (0.300, 0.550), (0.300, 0.563),
    (0.3025, 0.5135), (0.3025, 0.5265), (0.3025, 0.5395), (0.3025, 0.5525), (0.3025, 0.5655),
    (0.305, 0.516), (0.305, 0.529), (0.305, 0.542), (0.305, 0.555), (0.305, 0.568), (0.305, 0.578),
    (0.3075, 0.5185), (0.3075, 0.5315), (0.3075, 0.5445), (0.3075, 0.5575), (0.3075, 0.5705), (0.3075, 0.582),
    (0.310, 0.521), (0.310, 0.534), (0.310, 0.547), (0.310, 0.560), (0.310, 0.573), (0.310, 0.586),
    (0.3125, 0.5235), (0.3125, 0.5365), (0.3125, 0.5495), (0.3125, 0.5625), (0.3125, 0.5755), (0.3125, 0.588),
    (0.315, 0.526), (0.315, 0.539), (0.315, 0.552), (0.315, 0.565), (0.315, 0.578), (0.315, 0.591),
    (0.3175, 0.5285), (0.3175, 0.5415), (0.3175, 0.5545), (0.3175, 0.5675), (0.3175, 0.5805), (0.3175, 0.593),
    (0.320, 0.531), (0.320, 0.544), (0.320, 0.557), (0.320, 0.570), (0.320, 0.583), (0.320, 0.596),
    (0.3225, 0.5335), (0.3225, 0.5465), (0.3225, 0.5595), (0.3225, 0.5725), (0.3225, 0.5855),
    (0.325, 0.536), (0.325, 0.549), (0.325, 0.562), (0.325, 0.575), (0.325, 0.588),
    (0.3275, 0.5385), (0.3275, 0.5515), (0.3275, 0.5645), (0.3275, 0.5775), (0.3275, 0.590),
    (0.330, 0.541), (0.330, 0.554), (0.330, 0.567), (0.330, 0.580), (0.330, 0.593),
    (0.3325, 0.5435), (0.3325, 0.5565), (0.3325, 0.5695), (0.3325, 0.5825),
    (0.335, 0.546), (0.335, 0.559), (0.335, 0.572), (0.335, 0.585),
    (0.340, 0.552), (0.340, 0.565), (0.340, 0.578),
    (0.374, 0.655), (0.374, 0.668), (0.374, 0.681),
    (0.3765, 0.6585), (0.3765, 0.6715), (0.3765, 0.6845),
    (0.379, 0.652), (0.379, 0.665), (0.379, 0.678), (0.379, 0.691),
    (0.3815, 0.6565), (0.3815, 0.6695), (0.3815, 0.6825),
    (0.384, 0.650), (0.384, 0.663), (0.384, 0.676), (0.384, 0.689),
    (0.3865, 0.6535), (0.3865, 0.6665), (0.3865, 0.6795), (0.3865, 0.6925),
    (0.389, 0.656), (0.389, 0.669), (0.389, 0.682), (0.389, 0.694),
    (0.3915, 0.6595), (0.3915, 0.6725), (0.3915, 0.6855),
    (0.394, 0.653), (0.394, 0.666), (0.394, 0.679),
    (0.399, 0.660), (0.399, 0.673),
    # core of the three solid blobs (estimated)
    (0.16625, 0.3098), (0.16625, 0.3228), (0.16625, 0.3358), (0.16625, 0.3488),
    (0.17125, 0.3103), (0.17125, 0.3233), (0.17125, 0.3363), (0.17125, 0.3493), (0.17125, 0.3623),
    (0.17625, 0.3073), (0.17625, 0.3203), (0.17625, 0.3333), (0.17625, 0.3463), (0.17625, 0.3593), (0.17625, 0.3723),
    (0.18125, 0.3143), (0.18125, 0.3273), (0.18125, 0.3403), (0.18125, 0.3533), (0.18125, 0.3663), (0.18125, 0.3793),
    (0.18625, 0.3193), (0.18625, 0.3323), (0.18625, 0.3453), (0.18625, 0.3583), (0.18625, 0.3713), (0.18625, 0.3843),
    (0.19125, 0.3243), (0.19125, 0.3373), (0.19125, 0.3503), (0.19125, 0.3633), (0.19125, 0.3763), (0.19125, 0.3893),
    (0.19625, 0.3293), (0.19625, 0.3423), (0.19625, 0.3553), (0.19625, 0.3683), (0.19625, 0.3813), (0.19625, 0.3943),
    (0.20125, 0.3343), (0.20125, 0.3473), (0.20125, 0.3603), (0.20125, 0.3733), (0.20125, 0.3863), (0.20125, 0.3993), (0.20125, 0.4123),
    (0.20625, 0.3433), (0.20625, 0.3563), (0.20625, 0.3693), (0.20625, 0.3823), (0.20625, 0.3953), (0.20625, 0.4083), (0.20625, 0.4213),
    (0.21125, 0.3493), (0.21125, 0.3623), (0.21125, 0.3753), (0.21125, 0.3883), (0.21125, 0.4013), (0.21125, 0.4143), (0.21125, 0.4273), (0.21125, 0.4403),
    (0.21625, 0.3543), (0.21625, 0.3673), (0.21625, 0.3803), (0.21625, 0.3933), (0.21625, 0.4063), (0.21625, 0.4193), (0.21625, 0.4323), (0.21625, 0.4453),
    (0.22125, 0.3593), (0.22125, 0.3723), (0.22125, 0.3853), (0.22125, 0.3983), (0.22125, 0.4113), (0.22125, 0.4243), (0.22125, 0.4373), (0.22125, 0.4503),
    (0.22625, 0.3643), (0.22625, 0.3773), (0.22625, 0.3903), (0.22625, 0.4033), (0.22625, 0.4163), (0.22625, 0.4293), (0.22625, 0.4423), (0.22625, 0.4553),
    (0.23125, 0.3693), (0.23125, 0.3823), (0.23125, 0.3953), (0.23125, 0.4083), (0.23125, 0.4213), (0.23125, 0.4343), (0.23125, 0.4473),
    (0.23625, 0.3793), (0.23625, 0.3923), (0.23625, 0.4053), (0.23625, 0.4183), (0.23625, 0.4313), (0.23625, 0.4443), (0.23625, 0.4573),
    (0.24125, 0.3893), (0.24125, 0.4023), (0.24125, 0.4153), (0.24125, 0.4283), (0.24125, 0.4413), (0.24125, 0.4543),
    (0.24625, 0.3993), (0.24625, 0.4123), (0.24625, 0.4253), (0.24625, 0.4383), (0.24625, 0.4513), (0.24625, 0.4643),
    (0.25125, 0.4083), (0.25125, 0.4213), (0.25125, 0.4343), (0.25125, 0.4473), (0.25125, 0.4603),
    (0.30375, 0.5168), (0.30375, 0.5298), (0.30375, 0.5428), (0.30375, 0.5558), (0.30375, 0.5688),
    (0.30875, 0.5218), (0.30875, 0.5348), (0.30875, 0.5478), (0.30875, 0.5608), (0.30875, 0.5738),
    (0.31375, 0.5268), (0.31375, 0.5398), (0.31375, 0.5528), (0.31375, 0.5658), (0.31375, 0.5788),
    (0.31875, 0.5318), (0.31875, 0.5448), (0.31875, 0.5578), (0.31875, 0.5708), (0.31875, 0.5838),
    (0.32375, 0.5368), (0.32375, 0.5498), (0.32375, 0.5628), (0.32375, 0.5758),
    (0.32875, 0.5418), (0.32875, 0.5548), (0.32875, 0.5678), (0.32875, 0.5808),
]

# axis ticks / labels
year_ticks = [2010, 2015, 2020, 2025]
time_grid = [2008.33, 2011.07, 2013.81, 2016.55, 2019.29, 2022.03, 2024.77]
top_y_major = [0.0, 1.0, 2.0, 3.0]
top_y_minor = [0.5, 1.5, 2.5]
in_x_major = [0.5, 1.0, 1.5]
in_y_major = [0.5, 1.5, 2.5]
in_y_minor = [1.0, 2.0]
out_x_major = [0.15, 0.25, 0.35, 0.45]
out_x_minor = [0.20, 0.30, 0.40]
out_y_major = [0.3, 0.5, 0.7]
out_y_minor = [0.4, 0.6, 0.8]
legend_labels = ["RV", "Fitted", "Predicted"]

t_in = in_start + in_step * np.arange(len(rv_in))
t_out = out_start + out_step * np.arange(len(rv_out))
t_all = np.concatenate([t_in, t_out])
rv_all = np.concatenate([rv_in, rv_out])
in_actual, in_fitted = map(list, zip(*in_scatter_pairs))
out_actual, out_pred = map(list, zip(*out_scatter_pairs))

FRAME_W = 5
LINE_W = 7.5


def make_fig(fw, fh, bl, br, bt, bb, xr, yr, title, title_standoff):
    p = figure(frame_width=fw, frame_height=fh,
               min_border_left=bl, min_border_right=br,
               min_border_top=bt, min_border_bottom=bb,
               x_range=xr, y_range=yr, title=title,
               output_backend="svg", toolbar_location=None)
    p.title.text_font = FONT
    p.title.text_font_size = "88px"
    p.title.text_font_style = "bold"
    p.title.text_color = "black"
    p.title.align = "center"
    p.title.standoff = title_standoff
    p.outline_line_color = "black"
    p.outline_line_width = FRAME_W
    p.outline_line_alpha = 1.0
    for ax in (p.xaxis[0], p.yaxis[0]):
        ax.axis_line_color = None
        ax.major_tick_line_color = "black"
        ax.minor_tick_line_color = "black"
        ax.major_tick_line_width = FRAME_W
        ax.minor_tick_line_width = FRAME_W
        ax.major_tick_out = 45
        ax.major_tick_in = 0
        ax.minor_tick_out = 45
        ax.minor_tick_in = 0
        ax.major_label_text_font = FONT
        ax.major_label_text_font_size = "72px"
        ax.major_label_text_color = "black"
        ax.axis_label_text_font = FONT
        ax.axis_label_text_font_size = "72px"
        ax.axis_label_text_font_style = "normal"
        ax.axis_label_text_color = "black"
    p.yaxis[0].major_label_orientation = "vertical"
    for g in (p.xgrid[0], p.ygrid[0]):
        g.grid_line_color = GRID
        g.grid_line_width = 4.5
        g.grid_line_dash = "6 17"
        g.minor_grid_line_color = GRID
        g.minor_grid_line_width = 4.5
        g.minor_grid_line_dash = "6 17"
    return p


# ---------------- top: time series ----------------
top = make_fig(2638, 852, 222, 26, 141, 299,
               Range1d(2007.868, 2026.52), Range1d(-0.1256, 3.119),
               "GARCH Model", 42)
top.xaxis[0].ticker = FixedTicker(ticks=year_ticks, minor_ticks=[])
top.xaxis[0].formatter = PrintfTickFormatter(format="%d")
top.xaxis[0].axis_label = "Time"
top.xaxis[0].major_label_standoff = -6
top.xaxis[0].axis_label_standoff = 40
top.xgrid[0].ticker = FixedTicker(ticks=time_grid, minor_ticks=[])
top.xgrid[0].minor_grid_line_color = None
top.yaxis[0].ticker = FixedTicker(ticks=top_y_major, minor_ticks=top_y_minor)
top.yaxis[0].formatter = PrintfTickFormatter(format="%.1f")
top.yaxis[0].major_label_standoff = -10

top.line(t_all, rv_all, line_color="black", line_width=LINE_W, line_join="round")
top.line(t_in, fitted_in, line_color=BLUE, line_width=LINE_W, line_join="round")
top.line(t_out, pred_out, line_color=RED, line_width=LINE_W, line_join="round")

# legend swatches: thicker lines with no visible points
leg_r = [top.line(x=t_in[:2], y=[np.nan, np.nan], line_color=c, line_width=12.5)
         for c in ("black", BLUE, RED)]
legend = Legend(items=[LegendItem(label=lab, renderers=[r])
                       for lab, r in zip(legend_labels, leg_r)],
                location=(2029, 412), glyph_width=148, glyph_height=126,
                label_standoff=78, spacing=0, padding=0, margin=0,
                border_line_color=None, background_fill_alpha=0,
                label_text_font=FONT, label_text_font_size="72px",
                label_text_color="black")
top.add_layout(legend)

# ---------------- bottom left: in sample ----------------
bl = make_fig(1168, 853, 222, 53, 190, 233,
              Range1d(0.0098, 1.650), Range1d(0.06, 2.791),
              "In sample", 86)
bl.xaxis[0].ticker = FixedTicker(ticks=in_x_major, minor_ticks=[])
bl.xaxis[0].formatter = PrintfTickFormatter(format="%.1f")
bl.xaxis[0].axis_label = "Actual"
bl.xaxis[0].major_label_standoff = -11
bl.xaxis[0].axis_label_standoff = 16
bl.yaxis[0].ticker = FixedTicker(ticks=in_y_major, minor_ticks=in_y_minor)
bl.yaxis[0].formatter = PrintfTickFormatter(format="%.1f")
bl.yaxis[0].axis_label = "Fitted"
bl.yaxis[0].major_label_standoff = -10
bl.yaxis[0].axis_label_standoff = 47
bl.scatter(in_actual, in_fitted, marker="circle", size=33, fill_color=None,
           line_color="black", line_width=5)

# ---------------- bottom right: out of sample ----------------
br = make_fig(1165, 853, 252, 26, 190, 233,
              Range1d(0.114, 0.478), Range1d(0.2413, 0.8068),
              "Out of sample", 86)
br.xaxis[0].ticker = FixedTicker(ticks=out_x_major, minor_ticks=out_x_minor)
br.xaxis[0].formatter = PrintfTickFormatter(format="%.2f")
br.xaxis[0].axis_label = "Actual"
br.xaxis[0].major_label_standoff = -11
br.xaxis[0].axis_label_standoff = 16
br.yaxis[0].ticker = FixedTicker(ticks=out_y_major, minor_ticks=out_y_minor)
br.yaxis[0].formatter = PrintfTickFormatter(format="%.1f")
br.yaxis[0].axis_label = "Predicted"
br.yaxis[0].major_label_standoff = -10
br.yaxis[0].axis_label_standoff = 47
br.scatter(out_actual, out_pred, marker="circle", size=33, fill_color=None,
           line_color="black", line_width=5)

layout = column(top, row(bl, br))
open("out.html", "w").write(file_html(layout, INLINE))
